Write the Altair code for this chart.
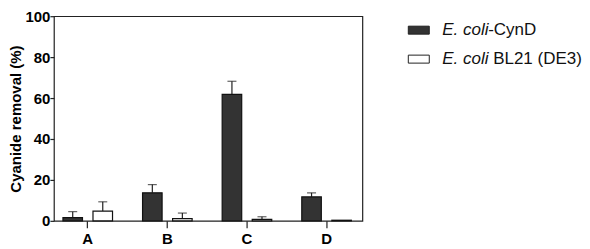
import altair as alt
import pandas as pd

groups = ["A", "B", "C", "D"]
series = ["E. coli-CynD", "E. coli BL21 (DE3)"]
cynd = [1.6, 13.7, 61.8, 11.7]
cynd_err = [2.9, 4.0, 6.4, 2.0]
bl21 = [4.7, 1.1, 0.7, 0.3]
bl21_err = [4.6, 2.7, 1.3, 0.0]
y_ticks = [0, 20, 40, 60, 80, 100]

leg_italic = ["E. coli", "E. coli"]
leg_rest = ["-CynD", "BL21 (DE3)"]

rows = []
for g, v, e in zip(groups, cynd, cynd_err):
    rows.append({"group": g, "series": series[0], "value": v, "upper": v + e, "err": e})
for g, v, e in zip(groups, bl21, bl21_err):
    rows.append({"group": g, "series": series[1], "value": v, "upper": v + e, "err": e})
df = pd.DataFrame(rows)

FONT = "Liberation Sans"
fill_scale = alt.Scale(domain=series, range=["#333333", "#ffffff"])

x_enc = alt.X("group:N", sort=groups, title=None,
              scale=alt.Scale(domain=groups, range=[-6, 313], paddingInner=0, paddingOuter=0),
              axis=alt.Axis(domain=False, labelAngle=0, tickSize=7, labelPadding=4,
                            labelFont=FONT, labelFontSize=15, labelFontWeight="bold",
                            labelColor="black", tickColor="#222222", tickWidth=1.2))
xoff = alt.XOffset("series:N", sort=series,
                   scale=alt.Scale(domain=series, paddingInner=0.35, paddingOuter=0.5))
y_scale = alt.Scale(domain=[0, 100], nice=False)

base = alt.Chart(df)

err_rule = base.mark_rule(color="#222222", strokeWidth=1.2).encode(
    x=x_enc, xOffset=xoff,
    y=alt.Y("value:Q", scale=y_scale),
    y2="upper:Q",
)
err_cap = base.transform_filter("datum.err > 0").mark_tick(
    color="#222222", thickness=1.2, size=9, orient="horizontal").encode(
    x=x_enc, xOffset=xoff,
    y=alt.Y("upper:Q", scale=y_scale),
)
bars = base.mark_bar(stroke="#111111", strokeWidth=1.2).encode(
    x=x_enc, xOffset=xoff,
    y=alt.Y("value:Q", scale=y_scale, title="Cyanide removal (%)",
            axis=alt.Axis(values=y_ticks, domain=False, grid=False, tickSize=4,
                          labelPadding=0, titlePadding=1,
                          labelFont=FONT, labelFontSize=15, labelFontWeight="bold",
                          labelColor="black", tickColor="#222222", tickWidth=1.2,
                          titleFont=FONT, titleFontSize=15, titleFontWeight="bold",
                          titleColor="black")),
    fill=alt.Fill("series:N", scale=fill_scale, legend=None),
)

main = alt.layer(err_rule, bars, err_cap).properties(width=309, height=205)

leg_df = pd.DataFrame({"series": series, "italic": leg_italic, "rest": leg_rest})
leg_y = alt.Y("series:N", axis=None,
              scale=alt.Scale(type="point", domain=series, range=[14, 43], padding=0))
leg_base = alt.Chart(leg_df)
sw = leg_base.mark_rect(height=8, stroke="#222222", strokeWidth=1).encode(
    x=alt.value(0), x2=alt.value(21), y=leg_y,
    fill=alt.Fill("series:N", scale=fill_scale, legend=None),
)
t1 = leg_base.mark_text(align="left", baseline="middle", font=FONT, fontSize=17,
                        fontStyle="italic", color="#111111").encode(
    x=alt.value(34), y=leg_y, text="italic:N")
t2a = leg_base.transform_filter(alt.datum.series == series[0]).mark_text(
    align="left", baseline="middle", font=FONT, fontSize=17, color="#111111").encode(
    x=alt.value(80), y=leg_y, text="rest:N")
t2b = leg_base.transform_filter(alt.datum.series == series[1]).mark_text(
    align="left", baseline="middle", font=FONT, fontSize=17, color="#111111").encode(
    x=alt.value(85), y=leg_y, text="rest:N")
legend = alt.layer(sw, t1, t2a, t2b).properties(width=120, height=205,
                                                view=alt.ViewBackground(stroke=None))

chart = alt.hconcat(main, legend, spacing=46, bounds="flush").properties(
    padding={"left": 0, "top": 0, "right": 0, "bottom": 0}
).configure_view(stroke="#222222", strokeWidth=1.2)

chart.save("out.html", embed_options={"renderer": "svg", "actions": False})
